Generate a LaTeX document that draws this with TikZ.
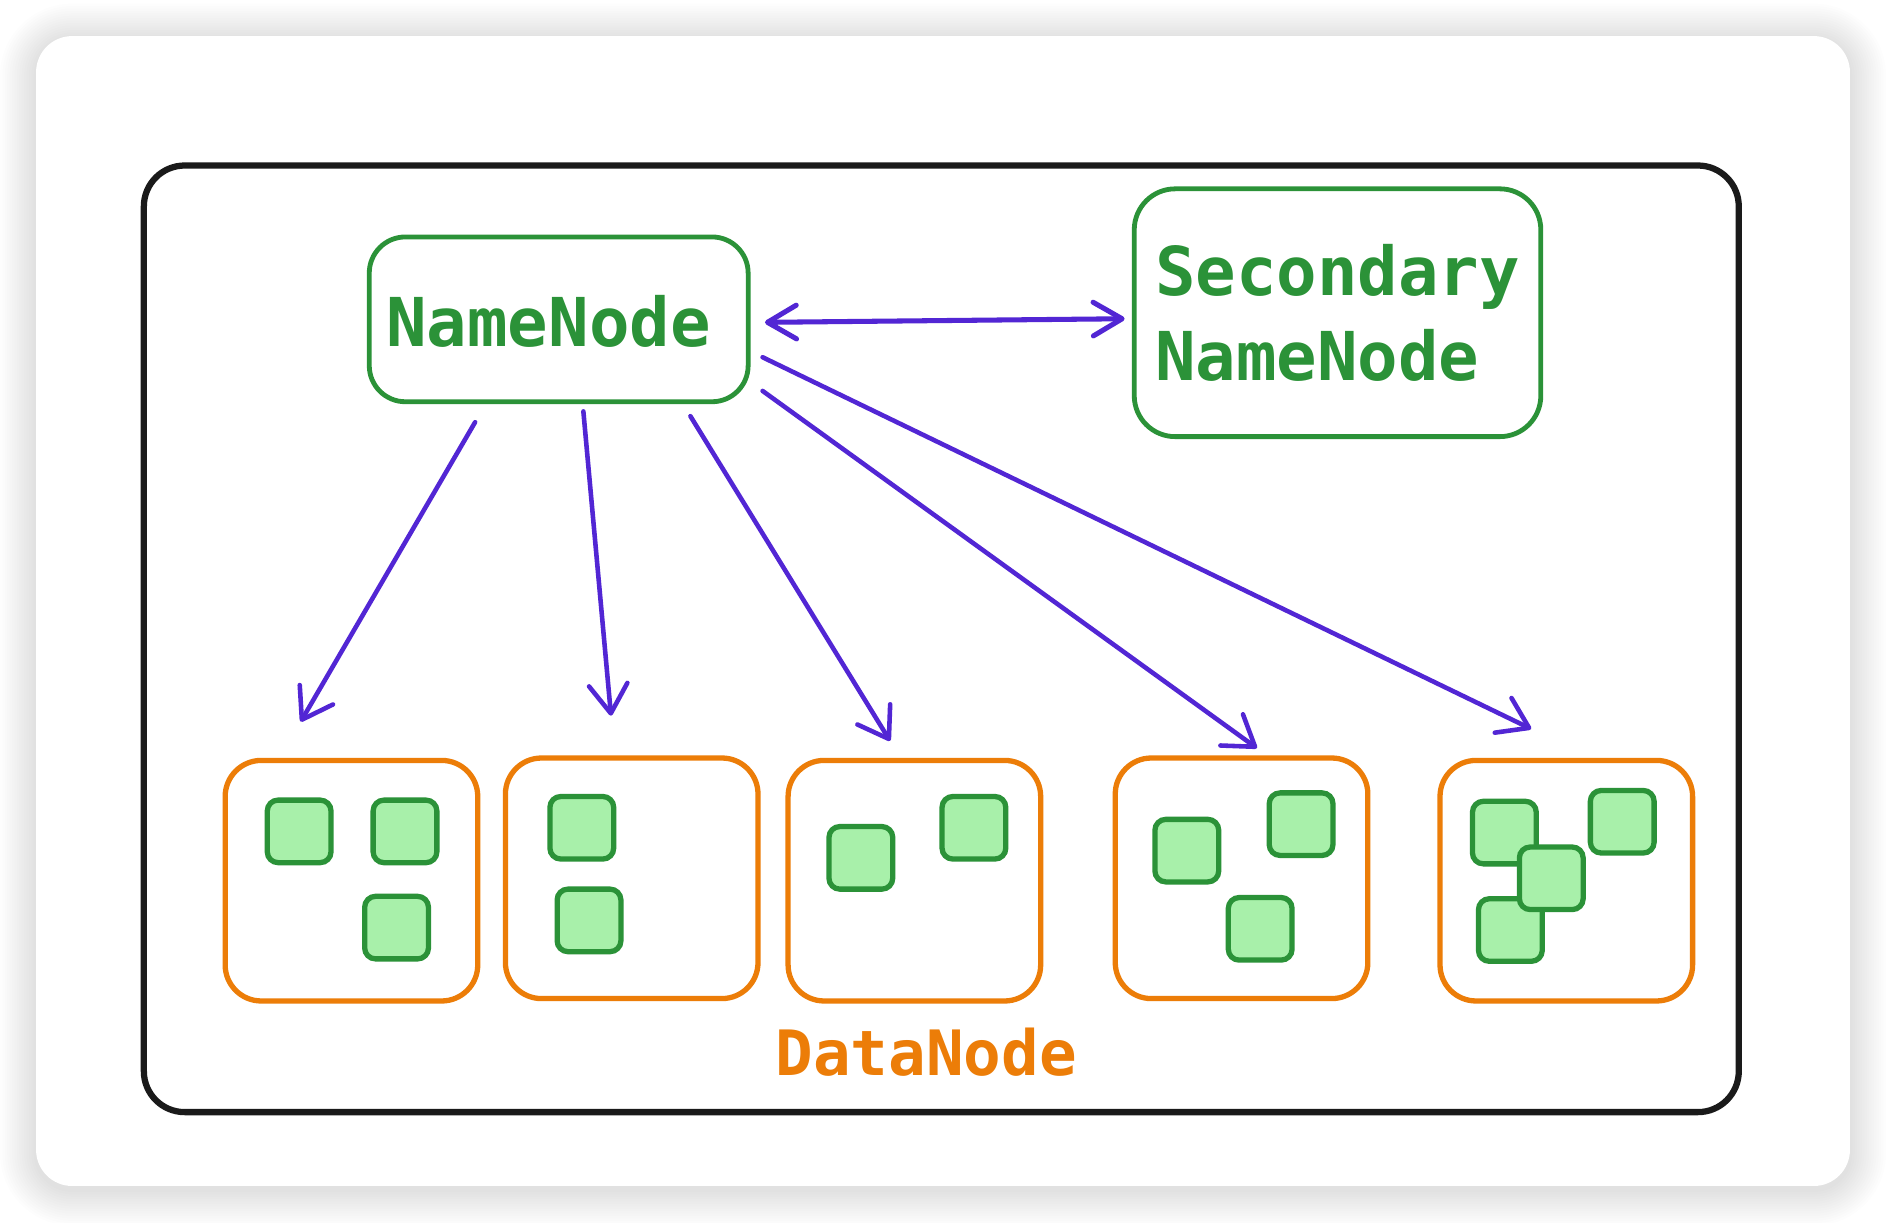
\documentclass[tikz,border=0pt]{standalone}
\usepackage{fontspec}
\setmonofont{DejaVu Sans Mono}
\usetikzlibrary{arrows.meta}
\definecolor{gr}{HTML}{2B9238}
\definecolor{grfill}{HTML}{A8F0AA}
\definecolor{org}{HTML}{EC7D08}
\definecolor{vio}{HTML}{5226D4}
\definecolor{blk}{HTML}{1A1A1A}
\begin{document}
\begin{tikzpicture}[x=0.5pt,y=-0.5pt,
  nnbox/.style={draw=gr, line width=2pt, rounded corners=15pt, anchor=north west,
    inner sep=0pt, text=gr, align=left,
    font=\fontsize{28pt}{35.5pt}\selectfont\ttfamily\bfseries},
  dnbox/.style={draw=org, line width=2.2pt, rounded corners=15pt, anchor=north west,
    minimum width=105pt, minimum height=100pt, inner sep=0pt},
  blockbox/.style={draw=gr, fill=grfill, line width=2.2pt, rounded corners=4.5pt,
    anchor=north west, minimum width=26.5pt, minimum height=26pt, inner sep=0pt},
  conn/.style={draw=vio, line width=1.9pt, line cap=round,
    -{Straight Barb[length=12pt,width=16pt,round]}},
  dconn/.style={draw=vio, line width=2.1pt, line cap=round,
    {Straight Barb[length=12pt,width=14pt,round]}-{Straight Barb[length=12pt,width=14pt,round]}}
]
\useasboundingbox (0,0) rectangle (1568,1016);
\fill[white] (0,0) rectangle (1568,1016);
% shadow
\foreach \i in {1,...,15}{
  \pgfmathsetmacro\rr{(30+2*\i)*0.5}
  \fill[black,opacity=0.008,rounded corners=\rr pt] ({30-2*\i},{30-2*\i+3}) rectangle ({1538+2*\i},{986+2*\i+3});
}
% card
\fill[white,rounded corners=15pt] (30,30) rectangle (1538,986);
% outer black frame
\node[draw=blk, line width=2.6pt, rounded corners=17pt, anchor=north west,
  minimum width=663pt, minimum height=393.5pt, inner sep=0pt] (frame) at (117,135) {};
% name nodes
\node[nnbox, minimum width=157.5pt, minimum height=68.5pt, align=center] (nn) at (305,195) {};
\node[text=gr, font=\fontsize{28pt}{35.5pt}\selectfont\ttfamily\bfseries] (nntext) at (456,267) {NameNode};
\node[nnbox, minimum width=169pt, minimum height=103pt, rounded corners=17pt] (snn) at (941,155) {Secondary\\NameNode};
% data nodes
\node[dnbox] (d1) at (185,630) {};
\node[dnbox] (d2) at (418,628) {};
\node[dnbox] (d3) at (653,630) {};
\node[dnbox] (d4) at (925,628) {};
\node[dnbox] (d5) at (1195,630) {};
\node[text=org, font=\fontsize{26pt}{30pt}\selectfont\ttfamily\bfseries] (dlabel) at (770,875) {DataNode};
% blocks
\node[blockbox] (b11) at (220,663) {};
\node[blockbox] (b12) at (308,663) {};
\node[blockbox] (b13) at (301,743) {};
\node[blockbox] (b21) at (455,660) {};
\node[blockbox] (b22) at (461,737) {};
\node[blockbox] (b31) at (687,685) {};
\node[blockbox] (b32) at (781,660) {};
\node[blockbox] (b41) at (958,679) {};
\node[blockbox] (b42) at (1053,657) {};
\node[blockbox] (b43) at (1019,744) {};
\node[blockbox] (b51) at (1222,664) {};
\node[blockbox] (b52) at (1320,655) {};
\node[blockbox] (b54) at (1227,745) {};
\node[blockbox] (b53) at (1261,702) {};
% connector end points
\coordinate (ds) at (636,268);
\coordinate (de) at (935,265);
\coordinate (s1) at (395,351);
\coordinate (e1) at (250,600);
\coordinate (s2) at (485,342);
\coordinate (e2) at (508,595);
\coordinate (s3) at (574,346);
\coordinate (e3) at (740,616);
\coordinate (s4) at (634,325);
\coordinate (e4) at (1045,622);
\coordinate (s5) at (634,297);
\coordinate (e5) at (1273,606);
\draw[dconn] (ds) -- (de);
\draw[conn] (s1) -- (e1);
\draw[conn] (s2) -- (e2);
\draw[conn] (s3) -- (e3);
\draw[conn] (s4) -- (e4);
\draw[conn] (s5) -- (e5);
\end{tikzpicture}
\end{document}
